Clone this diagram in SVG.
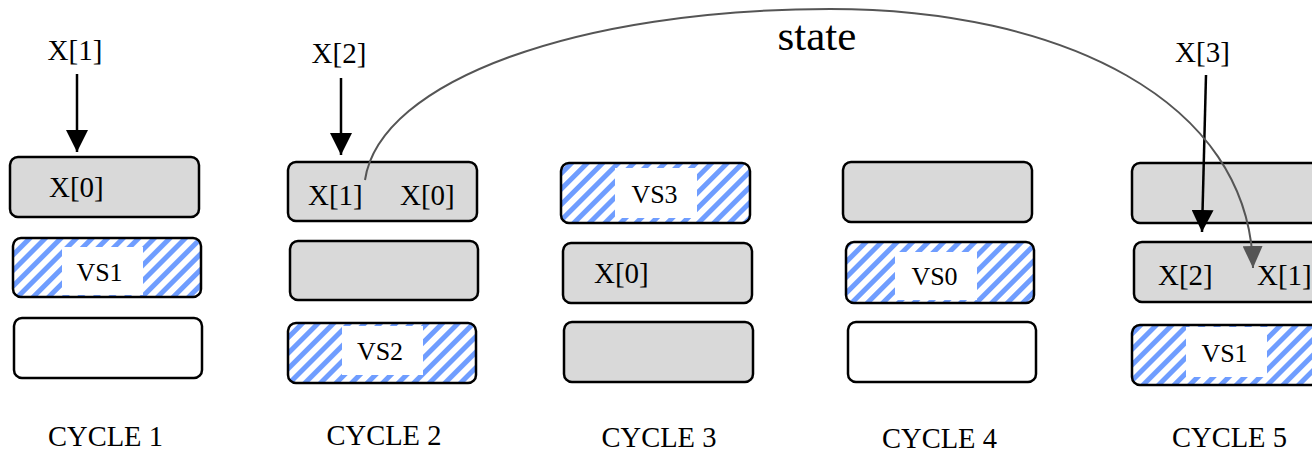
<svg xmlns="http://www.w3.org/2000/svg" width="1312" height="456" viewBox="0 0 1312 456">
<defs>
<pattern id="hatch" patternUnits="userSpaceOnUse" width="11" height="11" patternTransform="rotate(45)">
<rect width="11" height="11" fill="#ffffff"/>
<rect x="0" y="0" width="5" height="11" fill="#6f9dff"/>
</pattern>
<marker id="ah" markerUnits="userSpaceOnUse" markerWidth="22" markerHeight="22" refX="22" refY="11" orient="auto" viewBox="0 0 22 22">
<path d="M0,0 L22,11 L0,22 z" fill="#000"/>
</marker>
<marker id="ahg" markerUnits="userSpaceOnUse" markerWidth="22" markerHeight="20" refX="22" refY="10" orient="auto" viewBox="0 0 22 20">
<path d="M0,0 L22,10 L0,20 z" fill="#555"/>
</marker>
</defs>
<style>
.box{stroke:#000;stroke-width:2.5}
.g{fill:#d9d9d9}
.w{fill:#fff}
.h{fill:url(#hatch)}
.lab{fill:#fff}
text{font-family:"Liberation Serif","Times New Roman",serif;fill:#000}
.t{font-size:29px}
.v{font-size:26px}
.c{font-size:28.5px}
.s{font-size:43px}
.arr{stroke:#000;stroke-width:2.5;fill:none}
.st{stroke:#555;stroke-width:2;fill:none}
</style>
<rect width="1312" height="456" fill="#fff"/>

<g id="cycle1">
<rect class="box g" x="10" y="157" width="189" height="60" rx="8"/>
<text class="t" x="49" y="197">X[0]</text>
<rect class="box h" x="13" y="238" width="188" height="59" rx="8"/>
<rect class="lab" x="62" y="247" width="81" height="48"/>
<text class="v" x="99.5" y="281" text-anchor="middle">VS1</text>
<rect class="box w" x="14" y="318" width="188" height="60" rx="8"/>
<text class="c" x="105.5" y="446" text-anchor="middle">CYCLE 1</text>
</g>

<g id="cycle2">
<rect class="box g" x="288" y="162" width="189" height="59" rx="8"/>
<text class="t" x="308" y="205">X[1]</text>
<text class="t" x="400" y="205">X[0]</text>
<rect class="box g" x="290" y="241" width="188" height="59" rx="8"/>
<rect class="box h" x="288" y="323" width="188" height="60" rx="8"/>
<rect class="lab" x="342" y="326" width="81" height="49"/>
<text class="v" x="380" y="360" text-anchor="middle">VS2</text>
<text class="c" x="384" y="445" text-anchor="middle">CYCLE 2</text>
</g>

<g id="cycle3">
<rect class="box h" x="561" y="163" width="189" height="60" rx="8"/>
<rect class="lab" x="615" y="168" width="82" height="50"/>
<text class="v" x="654.5" y="203" text-anchor="middle">VS3</text>
<rect class="box g" x="563" y="243" width="189" height="60" rx="8"/>
<text class="t" x="594" y="283">X[0]</text>
<rect class="box g" x="564" y="322" width="189" height="60" rx="8"/>
<text class="c" x="659" y="447" text-anchor="middle">CYCLE 3</text>
</g>

<g id="cycle4">
<rect class="box g" x="843" y="162" width="189" height="60" rx="8"/>
<rect class="box h" x="846" y="242" width="188" height="61" rx="8"/>
<rect class="lab" x="895" y="252" width="82" height="48"/>
<text class="v" x="934.5" y="285" text-anchor="middle">VS0</text>
<rect class="box w" x="848" y="322" width="188" height="60" rx="8"/>
<text class="c" x="939.5" y="448" text-anchor="middle">CYCLE 4</text>
</g>

<g id="cycle5">
<rect class="box g" x="1132" y="163" width="189" height="60" rx="8"/>
<rect class="box g" x="1134" y="242" width="189" height="60" rx="8"/>
<text class="t" x="1158" y="285">X[2]</text>
<text class="t" x="1257" y="285">X[1]</text>
<rect class="box h" x="1132" y="325" width="189" height="60" rx="8"/>
<rect class="lab" x="1186" y="327" width="81" height="50"/>
<text class="v" x="1224.5" y="362" text-anchor="middle">VS1</text>
<text class="c" x="1229.5" y="447" text-anchor="middle">CYCLE 5</text>
</g>

<g id="inputs">
<text class="t" x="75" y="60" text-anchor="middle">X[1]</text>
<text class="t" x="339" y="63" text-anchor="middle">X[2]</text>
<text class="t" x="1202.5" y="62" text-anchor="middle">X[3]</text>
<text class="s" x="817" y="50" text-anchor="middle">state</text>
</g>

<g id="connectors">
<line class="arr" x1="77" y1="74" x2="77" y2="152" marker-end="url(#ah)"/>
<line class="arr" x1="341" y1="78" x2="341" y2="155" marker-end="url(#ah)"/>
<line class="arr" x1="1206" y1="75" x2="1202" y2="232" marker-end="url(#ah)"/>
<path class="st" d="M365,180 C380,80 580,9 830,9 C1060,9 1250,100 1253,268" marker-end="url(#ahg)"/>
</g>
</svg>
